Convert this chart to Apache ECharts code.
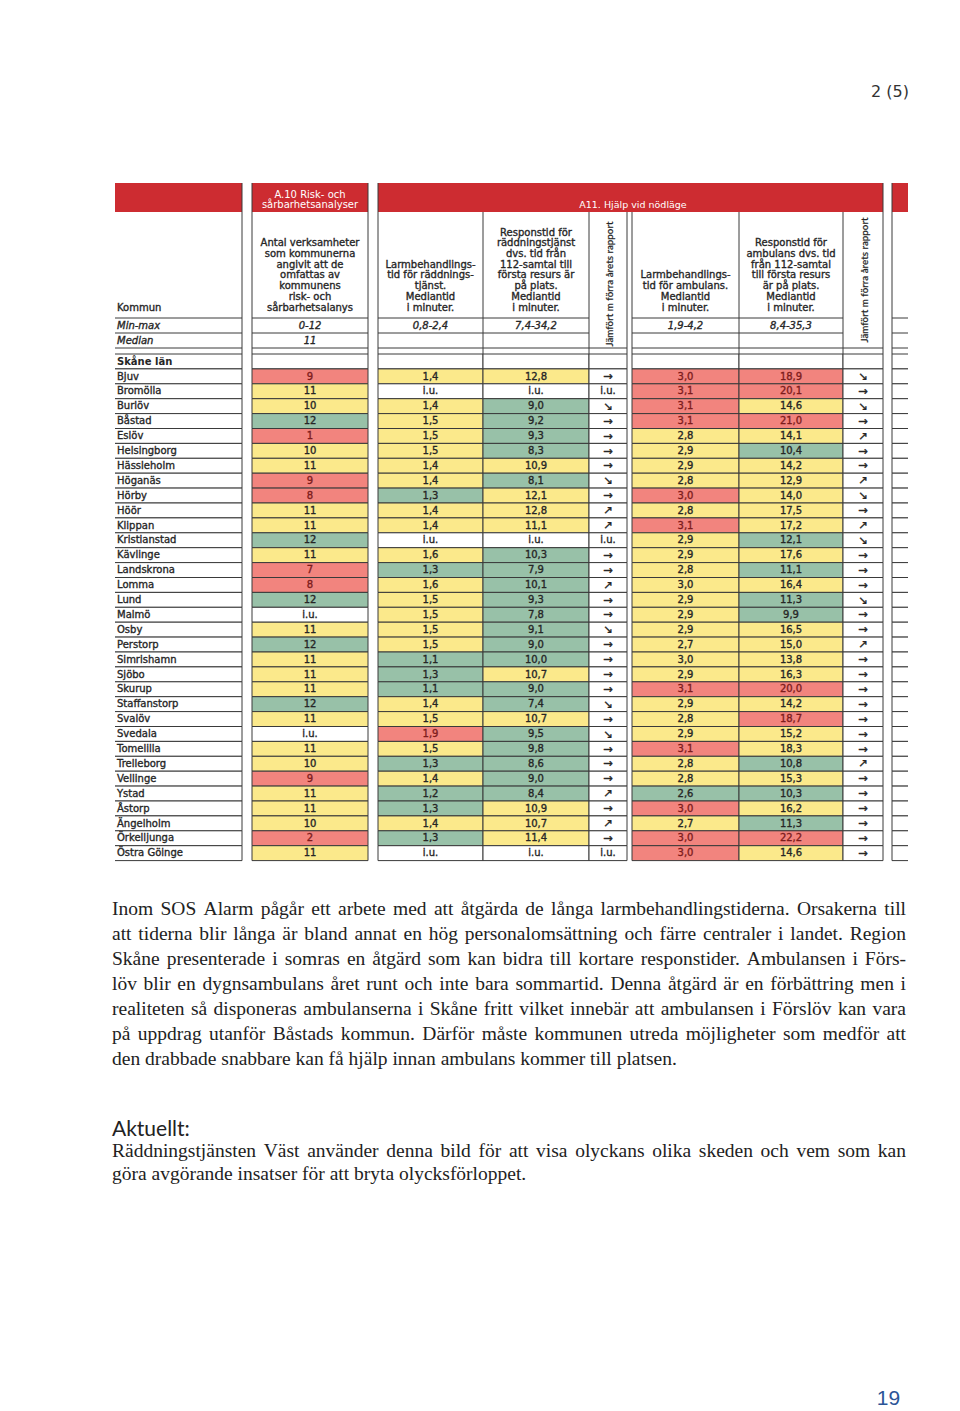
<!DOCTYPE html>
<html lang="sv">
<head>
<meta charset="utf-8">
<title>Skåne län – Risk- och sårbarhetsanalyser och Hjälp vid nödläge</title>
<script src="https://cdn.jsdelivr.net/npm/echarts@6/dist/echarts.min.js"></script>
<style>
html,body{margin:0;padding:0;background:#fff;}
#chart{width:960px;height:1411px;}
</style>
</head>
<body>
<div id="chart"></div>
<script>
// ================= DATA =================
const lanLabel = 'Skåne län';
const kommuner = ['Bjuv','Bromölla','Burlöv','Båstad','Eslöv','Helsingborg','Hässleholm','Höganäs','Hörby','Höör','Klippan','Kristianstad','Kävlinge','Landskrona','Lomma','Lund','Malmö','Osby','Perstorp','Simrishamn','Sjöbo','Skurup','Staffanstorp','Svalöv','Svedala','Tomelilla','Trelleborg','Vellinge','Ystad','Åstorp','Ängelholm','Örkelljunga','Östra Göinge'];

// A.10 Antal verksamheter (null = i.u.)
const antalVerksamheter = [9,11,10,12,1,10,11,9,8,11,11,12,11,7,8,12,null,11,12,11,11,11,12,11,null,11,10,9,11,11,10,2,11];
const antalKlass = ['r','y','y','g','r','y','y','r','r','y','y','g','y','r','r','g','w','y','g','y','y','y','g','y','w','y','y','r','y','y','y','r','y'];

// Larmbehandlingstid räddningstjänst
const larmRaddning = [1.4,null,1.4,1.5,1.5,1.5,1.4,1.4,1.3,1.4,1.4,null,1.6,1.3,1.6,1.5,1.5,1.5,1.5,1.1,1.3,1.1,1.4,1.5,1.9,1.5,1.3,1.4,1.2,1.3,1.4,1.3,null];
const larmRaddningKlass = ['y','w','y','y','y','y','y','y','g','y','y','w','y','g','y','y','y','y','y','g','g','g','y','y','r','y','g','y','g','g','y','g','w'];

// Responstid räddningstjänst
const respRaddning = [12.8,null,9.0,9.2,9.3,8.3,10.9,8.1,12.1,12.8,11.1,null,10.3,7.9,10.1,9.3,7.8,9.1,9.0,10.0,10.7,9.0,7.4,10.7,9.5,9.8,8.6,9.0,8.4,10.9,10.7,11.4,null];
const respRaddningKlass = ['y','w','g','g','g','g','y','g','y','y','y','w','g','g','g','g','g','g','g','g','y','g','g','y','g','g','g','g','g','y','y','y','w'];
const trendRaddning = ['→','i.u.','↘','→','→','→','→','↘','→','↗','↗','i.u.','→','→','↗','→','→','↘','→','→','→','→','↘','→','↘','→','→','→','↗','→','↗','→','i.u.'];

// Larmbehandlingstid ambulans
const larmAmbulans = [3.0,3.1,3.1,3.1,2.8,2.9,2.9,2.8,3.0,2.8,3.1,2.9,2.9,2.8,3.0,2.9,2.9,2.9,2.7,3.0,2.9,3.1,2.9,2.8,2.9,3.1,2.8,2.8,2.6,3.0,2.7,3.0,3.0];
const larmAmbulansKlass = ['r','r','r','r','y','y','y','y','r','y','r','y','y','y','y','y','y','y','y','y','y','r','y','y','y','r','y','y','g','r','y','r','r'];

// Responstid ambulans
const respAmbulans = [18.9,20.1,14.6,21.0,14.1,10.4,14.2,12.9,14.0,17.5,17.2,12.1,17.6,11.1,16.4,11.3,9.9,16.5,15.0,13.8,16.3,20.0,14.2,18.7,15.2,18.3,10.8,15.3,10.3,16.2,11.3,22.2,14.6];
const respAmbulansKlass = ['r','r','y','r','y','g','y','y','y','y','y','g','y','g','y','g','g','y','y','y','y','r','y','r','y','y','g','y','g','y','g','r','y'];
const trendAmbulans = ['↘','→','↘','→','↗','→','→','↗','↘','→','↗','↘','→','→','→','↘','→','→','↗','→','→','→','→','→','→','→','↗','→','→','→','→','→','→'];

// Header texts
const bandA10 = ['A.10 Risk- och','sårbarhetsanalyser'];
const bandA11 = 'A11. Hjälp vid nödläge';
const kommunHeader = 'Kommun';
const hdrAntal = ['Antal verksamheter','som kommunerna','angivit att de','omfattas av','kommunens','risk- och','sårbarhetsalanys'];
const hdrLarmRadd = ['Larmbehandlings-','tid för räddnings-','tjänst.','Mediantid','i minuter.'];
const hdrRespRadd = ['Responstid för','räddningstjänst','dvs. tid från','112-samtal till','första resurs är','på plats.','Mediantid','i minuter.'];
const hdrLarmAmb = ['Larmbehandlings-','tid för ambulans.','Mediantid','i minuter.'];
const hdrRespAmb = ['Responstid för','ambulans dvs. tid','från 112-samtal','till första resurs','är på plats.','Mediantid','i minuter.'];
const hdrJamfort = 'Jämfört m förra årets rapport';
const minMaxLabel = 'Min-max';
const medianLabel = 'Median';
const minMax = ['0-12','0,8-2,4','7,4-34,2','1,9-4,2','8,4-35,3'];
const medianAntal = '11';

// Page texts
const pageLabel = '2 (5)';
const pageNumber = '19';
const paragraph1 = [
 'Inom SOS Alarm pågår ett arbete med att åtgärda de långa larmbehandlingstiderna. Orsakerna till',
 'att tiderna blir långa är bland annat en hög personalomsättning och färre centraler i landet. Region',
 'Skåne presenterade i somras en åtgärd som kan bidra till kortare responstider. Ambulansen i Förs-',
 'löv blir en dygnsambulans året runt och inte bara sommartid. Denna åtgärd är en förbättring men i',
 'realiteten så disponeras ambulanserna i Skåne fritt vilket innebär att ambulansen i Förslöv kan vara',
 'på uppdrag utanför Båstads kommun. Därför måste kommunen utreda möjligheter som medför att',
 'den drabbade snabbare kan få hjälp innan ambulans kommer till platsen.'
];
const heading2 = 'Aktuellt:';
const paragraph2 = [
 'Räddningstjänsten Väst använder denna bild för att visa olyckans olika skeden och vem som kan',
 'göra avgörande insatser för att bryta olycksförloppet.'
];

// ================= STYLE / LAYOUT =================
const FILL = {r:'#f2847e', y:'#fbe98b', g:'#98c1a8', w:'#ffffff'};
const BAND = '#cd2c31';
const LINE = '#3a3a3a';
const TXT = '#262626';
const TXT_RED = '#7e1c1c';
const TFONT = '"DejaVu Sans", sans-serif';
const SERIF = '"Liberation Serif", serif';
const EMB = 0.35; // slight stroke to mimic the scanned, heavier type

const ROW_TOP = 354, ROW_H = 14.9;
const rowsCat = [lanLabel].concat(kommuner);
const nRows = rowsCat.length;
const TABLE_H = ROW_H * nRows;

const COL = {
  name:{l:115,w:127}, a:{l:252,w:116}, b:{l:378,w:105}, c:{l:483,w:106}, d:{l:589,w:38},
  e:{l:632,w:107}, f:{l:739,w:104}, g:{l:843,w:40}, h:{l:892,w:16}
};

const fmtInt = v => v == null ? 'i.u.' : String(v);
const fmtDec = v => v == null ? 'i.u.' : v.toFixed(1).replace('.', ',');

const specs = [
  {pos:COL.name, edges:'tbr', align:'left', text:i => rowsCat[i], cls:() => 'w', bold:i => i === 0},
  {pos:COL.a, text:i => i ? fmtInt(antalVerksamheter[i-1]) : '', cls:i => i ? antalKlass[i-1] : 'w'},
  {pos:COL.b, text:i => i ? fmtDec(larmRaddning[i-1]) : '', cls:i => i ? larmRaddningKlass[i-1] : 'w'},
  {pos:COL.c, text:i => i ? fmtDec(respRaddning[i-1]) : '', cls:i => i ? respRaddningKlass[i-1] : 'w'},
  {pos:COL.d, text:i => i ? trendRaddning[i-1] : '', cls:() => 'w', arrow:true},
  {pos:COL.e, text:i => i ? fmtDec(larmAmbulans[i-1]) : '', cls:i => i ? larmAmbulansKlass[i-1] : 'w'},
  {pos:COL.f, text:i => i ? fmtDec(respAmbulans[i-1]) : '', cls:i => i ? respAmbulansKlass[i-1] : 'w'},
  {pos:COL.g, text:i => i ? trendAmbulans[i-1] : '', cls:() => 'w', arrow:true},
  {pos:COL.h, edges:'tbl', text:() => '', cls:() => 'w'}
];

function makeRender(spec) {
  return function (params, api) {
    const i = params.dataIndex;
    const ctr = api.coord([api.value(0), api.value(1)]);
    const sz = api.size([1, 1]);
    const w = sz[0], h = sz[1];
    const x0 = ctr[0] - w / 2, y0 = ctr[1] - h / 2;
    const code = spec.cls(i);
    const children = [];
    if (spec.edges) {
      children.push({type:'rect', shape:{x:x0, y:y0, width:w, height:h}, style:{fill:FILL[code]}});
      const L = (x1, y1, x2, y2) => children.push({type:'line', shape:{x1, y1, x2, y2}, style:{stroke:LINE, lineWidth:1}});
      if (spec.edges.includes('t')) L(x0, y0, x0 + w, y0);
      if (spec.edges.includes('b')) L(x0, y0 + h, x0 + w, y0 + h);
      if (spec.edges.includes('l')) L(x0, y0, x0, y0 + h);
      if (spec.edges.includes('r')) L(x0 + w, y0, x0 + w, y0 + h);
    } else {
      children.push({type:'rect', shape:{x:x0, y:y0, width:w, height:h}, style:{fill:FILL[code], stroke:LINE, lineWidth:1}});
    }
    const t = spec.text(i);
    if (t) {
      const left = spec.align === 'left';
      const isArrow = spec.arrow && t !== 'i.u.';
      const col = code === 'r' ? TXT_RED : TXT;
      const bold = spec.bold && spec.bold(i);
      children.push({
        type:'text', x: left ? x0 + 2 : ctr[0], y: ctr[1] - 0.3,
        style:{
          text:t, fill:col, stroke:col, lineWidth: bold ? 0 : EMB,
          fontSize: isArrow ? 11.5 : 10, fontFamily:TFONT,
          fontWeight: bold ? 'bold' : 'normal',
          align: left ? 'left' : 'center', textAlign: left ? 'left' : 'center',
          verticalAlign:'middle', textVerticalAlign:'middle'
        }
      });
    }
    return {type:'group', children};
  };
}

const grids = [], xAxes = [], yAxes = [], series = [];
specs.forEach((s, k) => {
  grids.push({left:s.pos.l, top:ROW_TOP, width:s.pos.w, height:TABLE_H, containLabel:false});
  xAxes.push({gridIndex:k, type:'category', data:['v'], show:false});
  yAxes.push({gridIndex:k, type:'category', data:rowsCat, inverse:true, show:false});
  series.push({
    type:'custom', xAxisIndex:k, yAxisIndex:k, silent:true, animation:false, clip:false,
    renderItem: makeRender(s),
    data: rowsCat.map((_, r) => [0, r])
  });
});

// ---------- header & page graphics ----------
const G = [];
const txt = (x, y, text, o) => {
  o = o || {};
  const fill = o.fill || TXT;
  G.push({
    type:'text', x, y, rotation:o.rotation || 0, silent:true,
    style:{
      text, fill, stroke: o.emb ? fill : null, lineWidth: o.emb || 0,
      fontSize:o.size || 10, fontFamily:o.family || TFONT,
      fontWeight:o.weight || 'normal', fontStyle:o.style || 'normal',
      lineHeight:o.lh || undefined,
      align:o.align || 'center', textAlign:o.align || 'center',
      verticalAlign:o.valign || 'middle', textVerticalAlign:o.valign || 'middle'
    }
  });
};
const ln = (x1, y1, x2, y2, c) => G.push({type:'line', silent:true, shape:{x1, y1, x2, y2}, style:{stroke:c || LINE, lineWidth:1}});
const rc = (x, y, w, h, f) => G.push({type:'rect', silent:true, shape:{x, y, width:w, height:h}, style:{fill:f}});

const BAND_TOP = 183, BAND_BOT = 212, H1 = 318, H2 = 333, H3 = 348;
const R = c => c.l + c.w;

// red band
rc(115, BAND_TOP, 793, BAND_BOT - BAND_TOP, BAND);
[[R(COL.name), COL.a.l], [R(COL.a), COL.b.l], [R(COL.g), COL.h.l]].forEach(([a, b]) => {
  rc(a, BAND_TOP - 1, b - a, BAND_BOT - BAND_TOP + 2, '#ffffff');
  ln(a, BAND_TOP, a, ROW_TOP);
  ln(b, BAND_TOP, b, ROW_TOP);
});
txt((COL.a.l + R(COL.a)) / 2, 199.5, bandA10.join('\n'), {fill:'#ffffff', lh:10.5, size:10});
txt(633, 204.5, bandA11, {fill:'#ffffff', size:9.5});

// vertical header lines
[COL.b.l + COL.b.w, R(COL.c), R(COL.d), COL.e.l, R(COL.e), R(COL.f)].forEach(x => ln(x, BAND_BOT, x, ROW_TOP));
// horizontal header lines
const segs1 = [[115, R(COL.name)], [COL.a.l, R(COL.a)], [COL.b.l, R(COL.c)], [COL.e.l, R(COL.f)], [COL.h.l, R(COL.h)]];
[H1, H2].forEach(y => segs1.forEach(([a, b]) => ln(a, y, b, y)));
[[115, R(COL.name)], [COL.a.l, R(COL.a)], [COL.b.l, R(COL.d)], [COL.e.l, R(COL.g)], [COL.h.l, R(COL.h)]].forEach(([a, b]) => ln(a, H3, b, H3));

// column header texts (bottom aligned, last line centre at y=307)
const LH = 10.7;
const hdr = (col, lines) => txt(col.l + col.w / 2, 307 + LH / 2, lines.join('\n'), {lh:LH, valign:'bottom', emb:EMB});
hdr(COL.a, hdrAntal);
hdr(COL.b, hdrLarmRadd);
hdr(COL.c, hdrRespRadd);
hdr(COL.e, hdrLarmAmb);
hdr(COL.f, hdrRespAmb);
txt(117, 307, kommunHeader, {align:'left', emb:EMB});
txt(COL.d.l + COL.d.w / 2 + 1, 284, hdrJamfort, {rotation:Math.PI / 2, size:9.8, family:'Lato, sans-serif', weight:500, emb:0.2});
txt(COL.g.l + COL.g.w / 2 + 1, 280, hdrJamfort, {rotation:Math.PI / 2, size:9.8, family:'Lato, sans-serif', weight:500, emb:0.2});

// min-max / median
txt(117, 325.5, minMaxLabel, {align:'left', style:'italic', emb:EMB});
txt(117, 340.5, medianLabel, {align:'left', style:'italic', emb:EMB});
[COL.a, COL.b, COL.c, COL.e, COL.f].forEach((c, k) => txt(c.l + c.w / 2, 325.5, minMax[k], {style:'italic', emb:EMB}));
txt(COL.a.l + COL.a.w / 2, 340.5, medianAntal, {style:'italic', emb:EMB});

// page label and number
txt(909, 91, pageLabel, {align:'right', size:16, fill:'#333'});
txt(888.5, 1397, pageNumber, {size:21, family:'"Liberation Sans", sans-serif', fill:'#2b5597'});

// prose, justified word by word
const mctx = document.createElement('canvas').getContext('2d');
function proseLine(line, x, y, width, size, family, justify) {
  const ws = line.split(' ');
  mctx.font = size + 'px ' + family;
  const widths = ws.map(w => mctx.measureText(w).width);
  const total = widths.reduce((a, b) => a + b, 0);
  const gap = (justify && ws.length > 1) ? (width - total) / (ws.length - 1) : mctx.measureText(' ').width;
  let cx = x;
  ws.forEach((w, k) => {
    txt(cx, y, w, {align:'left', size, family, fill:'#222'});
    cx += widths[k] + gap;
  });
}
const PX = 112, PW = 794, PSIZE = 19.5;
paragraph1.forEach((l, k) => proseLine(l, PX, 908 + k * 25.1, PW, PSIZE, SERIF, k < paragraph1.length - 1));
txt(PX, 1127, heading2, {align:'left', size:21, family:'Lato, sans-serif', fill:'#222'});
paragraph2.forEach((l, k) => proseLine(l, PX, 1150 + k * 23, PW, PSIZE, SERIF, k < paragraph2.length - 1));

const chart = echarts.init(document.getElementById('chart'), null, {renderer:'svg'});
chart.setOption({
  animation:false,
  backgroundColor:'#ffffff',
  grid:grids, xAxis:xAxes, yAxis:yAxes, series,
  graphic:{elements:G}
});
</script>
</body>
</html>
